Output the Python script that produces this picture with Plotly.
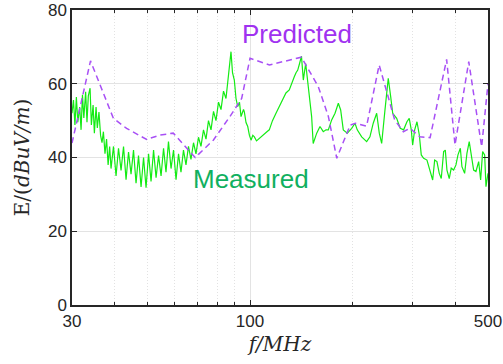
import plotly.graph_objects as go
import numpy as np

# Measured (green) trace: frequency in MHz, field strength in dBuV/m
meas_f = [30.0, 30.3, 30.6, 30.9, 31.2, 31.6, 31.9, 32.2, 32.5, 32.9, 33.2, 33.5, 33.9, 34.2, 34.6, 34.9,
          35.3, 35.6, 36.0, 36.4, 36.75, 37.1, 37.5, 37.9, 38.3, 38.7,
          39.06, 39.72, 40.41, 41.09, 41.80, 42.51, 43.24, 43.97, 44.72, 45.48, 46.26, 47.04, 47.86, 48.67,
          49.50, 50.35, 51.20, 52.08, 52.97, 53.87, 54.79, 55.72, 56.65, 57.61, 58.61, 59.61, 60.63, 61.66,
          62.69, 63.76, 64.85, 65.96, 67.08, 68.23, 69.39, 70.57, 71.77, 73.00, 74.25, 75.51, 76.81, 78.12,
          79.44, 80.80, 82.18, 83.58, 85.00, 86.45,
          87.04, 87.93, 88.83, 89.92, 90.95, 92.01, 93.13, 94.09, 95.70, 96.22, 97.33, 98.46, 99.6, 100.7,
          101.9, 103.0, 104.5, 106.5, 108.4, 110.1, 112.1, 113.9, 116.4, 119.2, 122.1, 124.7, 127.5, 130.4,
          132.8, 134.9, 136.5, 138.1, 139.8, 141.6, 143.4, 145.7, 148.3, 151.7, 153.3, 157.0, 160.5, 164.1,
          167.2, 169.8, 173.7, 177.7, 181.7, 184.6, 187.9, 193.1, 198.9, 203.4, 206.5, 212.8, 220.1, 225.0,
          230.1, 235.5, 239.7, 243.6, 249.1, 254.7, 258.9, 262.5, 269.6, 276.2, 282.6, 289.0, 293.5, 297.6,
          300.4, 304.5, 309.3, 314.2, 318.4, 323.6, 330.9, 338.4, 343.9, 348.6, 354.0, 359.6, 364.5, 370.4,
          374.6, 378.8, 384.7, 389.9, 396.3, 402.6, 408.1, 414.7, 419.2, 426.9, 433.6, 440.4, 446.4, 453.7,
          460.9, 469.4, 475.7, 482.2, 488.8, 493.2, 500.0]
meas_e = [52, 55.6, 48.8, 56.4, 49.6, 53.7, 47.5, 57, 50.7, 57.8, 49.6, 56.7, 58.8, 48.8, 54.2, 46.6,
          53.7, 48, 52.3, 46, 44, 47, 41, 45, 38, 43,
          37, 43, 35, 42.5, 36.5, 43, 34, 41.5, 35.5, 42, 33, 40.5, 32, 40,
          31.8, 41, 33.5, 42, 34.5, 40.5, 35, 42.5, 36, 44.3, 37, 42, 34, 41,
          36, 42, 38, 43, 39.5, 44, 41, 45.5, 43, 47.5, 45, 50, 47.5, 52.5,
          50, 55, 53, 58, 56, 62,
          64, 68.7, 63, 61, 56, 53.8, 55, 51.1, 53, 52.4, 49.5, 48.4, 46, 44.7,
          46, 45.6, 44.5, 45.2, 46, 46.6, 47, 47.5, 50, 52, 54, 55.6, 57.5, 58.3,
          60.5, 61.9, 63, 63.7, 65.5, 67.5, 61, 65.5, 59.2, 51.1, 43.8, 46.6, 48.4, 47,
          47.5, 47.5, 50.2, 52, 54.7, 52.9, 47.5, 46.6, 47.9, 49.3, 47.5, 45.6, 44.3, 45.6,
          49.3, 52, 46.6, 43.8, 52.9, 61.5, 56.5, 52, 50.6, 47.9, 47.5, 49.7, 50.6, 47.5,
          43.4, 47.5, 49.7, 46.1, 40.7, 39.8, 39.3, 36.2, 33.9, 39.3, 38.9, 35.7, 34.3, 41.6,
          42, 36.6, 34.3, 37.1, 36.6, 38, 40.7, 42.5, 37.5, 35.7, 41.1, 44.3, 40.7, 36.6,
          36.2, 38.9, 33.9, 41.6, 40.7, 32.1, 35.7]

# Predicted (purple dashed) trace
pred_f = [30.0, 34.0, 39.7, 43.4, 49.7, 54.4, 59.5, 65.2, 69.0, 78.0, 87.3, 94.5, 100.0, 114.0,
          141.6, 158.7, 169.9, 179.8, 196.9, 204.0, 220.0, 239.5, 252.0, 266.0, 282.0, 295.0,
          315.6, 338.0, 378.0, 400.0, 439.0, 479.0, 500.0]
pred_e = [43.9, 66.2, 50.6, 47.9, 44.9, 46.1, 46.6, 42.5, 40.0, 44.7, 51.1, 56.0, 66.9, 65.1,
          67.2, 59.2, 51.1, 39.8, 48.8, 49.3, 48.5, 65.1, 57.8, 50.2, 47.0, 47.9,
          45.6, 45.4, 66.6, 43.4, 66.0, 42.9, 60.1]

x_major = [30, 100, 500]
x_major_text = ["30", "100", "500"]
x_minor = [40, 50, 60, 70, 80, 90, 200, 300, 400]
y_ticks = [0, 20, 40, 60, 80]

label_pred = "Predicted"
label_meas = "Measured"
pred_label_pos = (137.3, 73.5)
meas_label_pos = (100.6, 34.3)

fig = go.Figure()
fig.add_trace(go.Scatter(x=meas_f, y=meas_e, mode="lines",
                         line=dict(color="rgb(20,235,20)", width=1.2), showlegend=False))
fig.add_trace(go.Scatter(x=pred_f, y=pred_e, mode="lines",
                         line=dict(color="rgb(168,80,245)", width=1.5, dash="6px,4px"), showlegend=False))

fig.add_annotation(x=np.log10(pred_label_pos[0]), y=pred_label_pos[1], text=label_pred, showarrow=False,
                   font=dict(family="Liberation Sans, Arial", size=26, color="rgb(160,50,240)"),
                   xanchor="center", yanchor="middle")
fig.add_annotation(x=np.log10(meas_label_pos[0]), y=meas_label_pos[1], text=label_meas, showarrow=False,
                   font=dict(family="Liberation Sans, Arial", size=26, color="rgb(16,176,96)"),
                   xanchor="center", yanchor="middle")

axis_common = dict(showline=True, linecolor="#262626", linewidth=1.5, mirror="ticks",
                   ticks="inside", ticklen=5, tickcolor="#262626", tickwidth=1,
                   tickfont=dict(family="Liberation Sans, Arial", size=17, color="#262626"),
                   gridcolor="#e3e3e3", gridwidth=1, zeroline=False, automargin=False)

fig.update_xaxes(type="log", range=[np.log10(30), np.log10(500)],
                 tickmode="array", tickvals=x_major, ticktext=x_major_text, showgrid=True,
                 minor=dict(tickmode="array", tickvals=x_minor, ticks="inside", ticklen=3,
                            tickcolor="#262626", showgrid=True, gridcolor="#e2e2e2", griddash="1px,2px"),
                 title=dict(text="<i>f/MHz</i>", font=dict(family="DejaVu Serif", size=20, color="#262626"),
                            standoff=7),
                 **axis_common)
fig.update_yaxes(range=[0, 80], tickmode="array", tickvals=y_ticks, showgrid=True,
                 title=dict(text="E/(<i>dBuV/m</i>)", font=dict(family="DejaVu Serif", size=20, color="#262626"),
                            standoff=13),
                 **axis_common)

fig.update_layout(width=503, height=364, margin=dict(l=72, r=15, t=10, b=59),
                  plot_bgcolor="white", paper_bgcolor="white")

fig.write_html("out.html", config={"displayModeBar": False},
               post_script="document.body.style.margin='0';document.body.style.overflow='hidden';")
